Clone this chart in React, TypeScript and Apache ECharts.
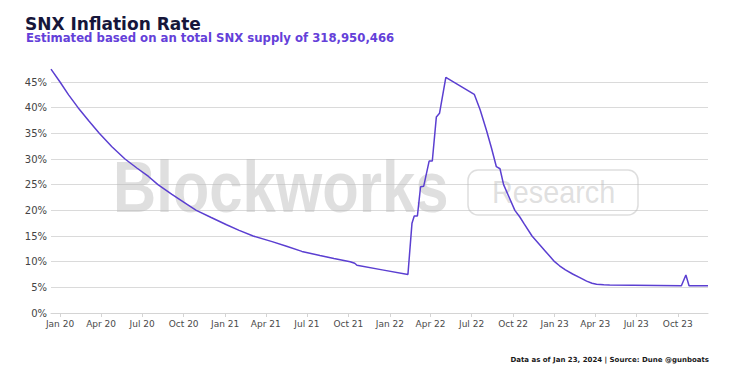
import React, { useEffect, useRef } from 'react';
import * as echarts from 'echarts';

const TITLE = 'SNX Inflation Rate';
const SUBTITLE = 'Estimated based on an total SNX supply of 318,950,466';
const FOOTNOTE = 'Data as of Jan 23, 2024 | Source: Dune @gunboats';
const WATERMARK = 'Blockworks';
const WATERMARK_TAG = 'Research';

const X_MIN = '2019-12-12';
const X_MAX = '2023-12-07';
const Y_MAX = 48;
const Y_STEP = 5;
const MONTH_NAMES = ['Jan', 'Feb', 'Mar', 'Apr', 'May', 'Jun', 'Jul', 'Aug', 'Sep', 'Oct', 'Nov', 'Dec'];

const DATES = [
  '2019-12-12', '2020-01-01', '2020-01-20', '2020-02-10', '2020-03-05', '2020-03-28',
  '2020-04-25', '2020-05-24', '2020-06-20', '2020-07-15', '2020-08-05', '2020-09-05',
  '2020-10-01', '2020-10-29', '2020-12-01', '2021-01-04', '2021-02-01', '2021-03-04',
  '2021-04-15', '2021-05-17', '2021-06-20', '2021-07-30', '2021-08-30', '2021-10-05',
  '2021-10-15', '2021-10-20', '2021-12-15',
  '2022-02-10', '2022-02-19', '2022-02-24', '2022-03-03', '2022-03-10', '2022-03-17',
  '2022-03-29', '2022-04-05', '2022-04-14', '2022-04-21', '2022-05-05', '2022-07-07',
  '2022-07-20', '2022-08-03', '2022-08-14', '2022-08-25', '2022-09-02', '2022-09-10',
  '2022-09-22', '2022-10-05', '2022-10-16', '2022-10-26', '2022-11-12', '2022-11-28',
  '2022-12-12', '2023-01-01', '2023-01-12', '2023-01-25', '2023-02-10', '2023-02-26',
  '2023-03-13', '2023-03-25', '2023-04-04', '2023-04-20', '2023-05-03', '2023-10-09',
  '2023-10-19', '2023-10-26', '2023-12-07',
];

const RATES = [
  47.5, 45.0, 42.5, 40.0, 37.4, 35.0,
  32.4, 30.0, 28.2, 26.6, 25.0, 23.1,
  21.6, 20.0, 18.6, 17.2, 16.1, 15.0,
  13.9, 13.0, 12.0, 11.2, 10.6, 10.0,
  9.7, 9.3, 8.4,
  7.5, 17.5, 18.9, 18.9, 24.6, 24.7,
  29.6, 29.6, 38.2, 38.9, 45.9, 42.6,
  39.6, 35.6, 32.2, 28.5, 28.1, 25.0,
  22.6, 20.0, 18.7, 17.3, 15.0, 13.4,
  12.0, 10.0, 9.2, 8.4, 7.6, 6.9,
  6.2, 5.8, 5.6, 5.5, 5.45, 5.3,
  7.4, 5.3, 5.3,
];

const DAY = 24 * 3600 * 1000;

export default function App() {
  const ref = useRef<HTMLDivElement>(null);

  useEffect(() => {
    if (!ref.current) return;
    const chart = echarts.init(ref.current, null, { renderer: 'svg' });
    chart.setOption({
      animation: false,
      backgroundColor: '#ffffff',
      grid: { left: 51, right: 42, top: 66.6, bottom: 61, containLabel: false },
      xAxis: {
        type: 'time',
        min: X_MIN,
        max: X_MAX,
        minInterval: 95 * DAY,
        maxInterval: 95 * DAY,
        axisLine: { show: true, lineStyle: { color: '#d4d4d4', width: 1 } },
        axisTick: { show: true, length: 4, lineStyle: { color: '#d4d4d4' } },
        splitLine: { show: false },
        axisLabel: {
          margin: 6,
          fontSize: 9,
          fontFamily: 'DejaVu Sans',
          color: '#4a4a4a',
          fontWeight: 'normal',
          formatter: (v: number) => {
            const d = new Date(v);
            return MONTH_NAMES[d.getMonth()] + ' ' + String(d.getFullYear()).slice(2);
          },
        },
      },
      yAxis: {
        type: 'value',
        min: 0,
        max: Y_MAX,
        interval: Y_STEP,
        axisLine: { show: false },
        axisTick: { show: false },
        splitLine: { show: true, showMaxLine: false, lineStyle: { color: '#dadada', width: 1 } },
        axisLabel: {
          margin: 4,
          fontSize: 10,
          fontFamily: 'DejaVu Sans',
          color: '#444',
          showMaxLabel: false,
          formatter: '{value}%',
        },
      },
      series: [
        {
          type: 'line',
          data: DATES.map((d, i) => [d, RATES[i]]),
          showSymbol: false,
          symbol: 'none',
          lineStyle: { width: 1.5, color: '#5b3fd1' },
          itemStyle: { color: '#5b3fd1' },
          z: 3,
        },
      ],
      graphic: [
        {
          type: 'text',
          x: 25,
          y: 23.5,
          style: {
            text: TITLE,
            fontSize: 17,
            fontWeight: 'bold',
            fontFamily: 'DejaVu Sans',
            fill: '#16163a',
            verticalAlign: 'middle',
          },
        },
        {
          type: 'text',
          x: 26,
          y: 37.5,
          style: {
            text: SUBTITLE,
            fontSize: 11.7,
            fontWeight: 'bold',
            fontFamily: 'DejaVu Sans',
            fill: '#6440d9',
            verticalAlign: 'middle',
          },
        },
        {
          type: 'text',
          x: 709,
          y: 360,
          style: {
            text: FOOTNOTE,
            fontSize: 7,
            fontWeight: 'bold',
            fontFamily: 'DejaVu Sans',
            fill: '#1a1a1a',
            align: 'right',
            verticalAlign: 'middle',
          },
        },
        {
          type: 'text',
          x: 113,
          y: 187,
          scaleX: 0.83,
          z: 1,
          style: {
            text: WATERMARK,
            fontSize: 72,
            fontWeight: 'bold',
            fontFamily: 'Liberation Sans',
            fill: 'rgba(185,185,185,0.45)',
            verticalAlign: 'middle',
          },
        },
        {
          type: 'rect',
          z: 1,
          shape: { x: 468, y: 170, width: 170, height: 45, r: 10 },
          style: { fill: 'none', stroke: 'rgba(190,190,190,0.5)', lineWidth: 1.5 },
        },
        {
          type: 'text',
          x: 492,
          y: 191.5,
          scaleX: 0.9,
          z: 1,
          style: {
            text: WATERMARK_TAG,
            fontSize: 32,
            fontWeight: 500,
            fontFamily: 'Liberation Sans',
            fill: 'rgba(185,185,185,0.45)',
            verticalAlign: 'middle',
          },
        },
      ],
    });
    return () => chart.dispose();
  }, []);

  return <div ref={ref} style={{ position: 'fixed', left: 0, top: 0, width: 750, height: 374 }} />;
}
